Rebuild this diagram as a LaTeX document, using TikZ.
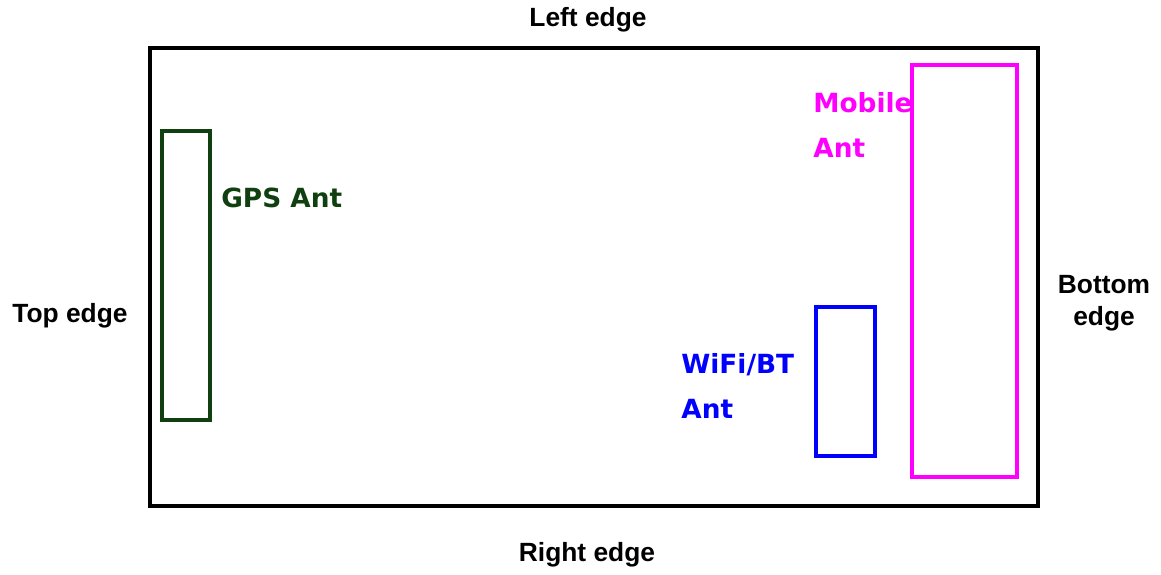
\documentclass[tikz,border=0pt]{standalone}
\usepackage{fontspec}
\setmainfont{Liberation Sans}
\newfontfamily\antfont{DejaVu Sans}
\usepackage{tikz}

\definecolor{gpsgreen}{RGB}{16,64,16}
\definecolor{mobmagenta}{RGB}{255,0,255}
\definecolor{wifiblue}{RGB}{0,0,255}

\tikzset{
  edgelabel/.style={font=\fontsize{15}{18}\selectfont\bfseries, align=center},
  antlabel/.style={font=\antfont\fontsize{15}{25.5}\selectfont\bfseries, align=left, anchor=west, inner sep=0pt},
  antbox/.style={line width=2.1pt}
}

\begin{document}
\begin{tikzpicture}[x=0.02cm, y=-0.02cm]
        \useasboundingbox (0,0) rectangle (1161,575);
        % board outline
        \draw[line width=2.1pt] (150,48) rectangle (1038,506);
        \node[edgelabel] (left) at (588,20) {Left edge};
        \node[edgelabel] (right) at (587,555) {Right edge};
        \node[edgelabel] (top) at (70,316) {Top edge};
        \node[edgelabel] (bottom) at (1104,303) {Bottom\\edge};
        % antennas
        \draw[antbox, gpsgreen] (162,131) rectangle (210,420);
        \node[antlabel, text=gpsgreen] (gps) at (221,198) {GPS Ant};
        \draw[antbox, mobmagenta] (912,65) rectangle (1017,477);
        \node[antlabel, text=mobmagenta] (mobile) at (813,125) {Mobile\\Ant};
        \draw[antbox, wifiblue] (816,307) rectangle (875,456);
        \node[antlabel, text=wifiblue] (wifi) at (681,386) {WiFi/BT\\Ant};
      \end{tikzpicture}
\end{document}
